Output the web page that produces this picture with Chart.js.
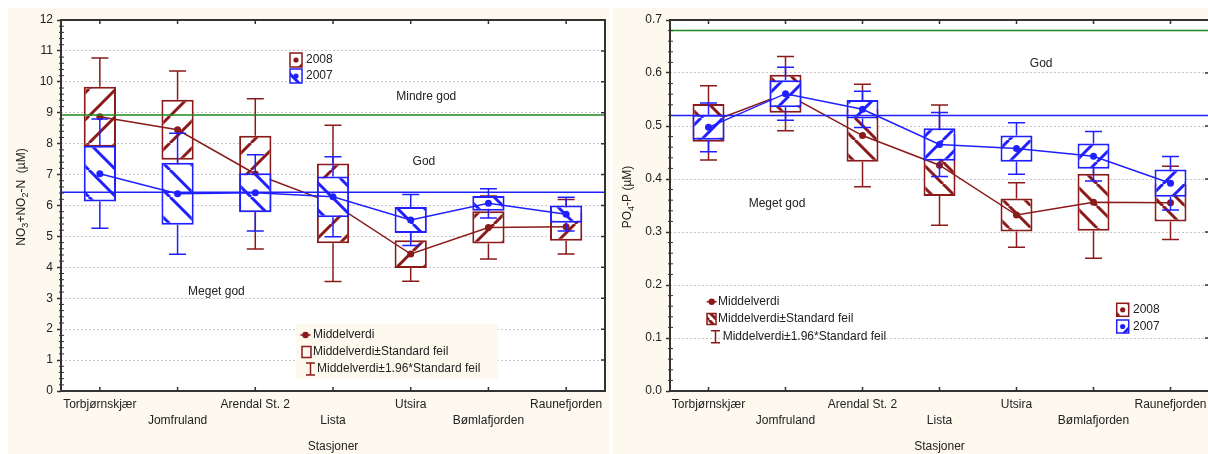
<!DOCTYPE html>
<html>
<head>
<meta charset="utf-8">
<script src="https://cdn.jsdelivr.net/npm/chart.js@4"></script>
<style>
html, body { margin: 0; padding: 0; background: #fff; overflow: hidden; width: 1208px; height: 454px; }
.panel { position: absolute; top: 8px; height: 446px; background: #fdf9ee; }
#p1 { left: 8px; width: 602px; }
#p2 { left: 613px; width: 600px; }
canvas { display: block; }
</style>
</head>
<body>
<div class="panel" id="p1"><canvas id="c1" width="602" height="446"></canvas></div>
<div class="panel" id="p2"><canvas id="c2" width="600" height="446"></canvas></div>
<script>
// Stations (x categories)
const stations = ['Torbjørnskjær', 'Jomfruland', 'Arendal St. 2', 'Lista', 'Utsira', 'Bømlafjorden', 'Raunefjorden'];
const years = ['2008', '2007'];
const statLabels = ['Middelverdi', 'Middelverdi±Standard feil', 'Middelverdi±1.96*Standard feil'];

// NO3+NO2-N (µM): mean and standard error
const no3Mean2008 = [8.87, 8.45, 7.02, 6.07, 4.43, 5.29, 5.31];
const no3Se2008 = [0.97, 0.97, 1.24, 1.29, 0.45, 0.52, 0.45];
const no3Mean2007 = [7.03, 6.38, 6.41, 6.28, 5.53, 6.07, 5.72];
const no3Se2007 = [0.90, 1.00, 0.63, 0.66, 0.42, 0.24, 0.28];
const no3Limits = [8.93, 6.43];
const no3Zones = ['Mindre god', 'God', 'Meget god'];

// PO4-P (µM): mean and standard error
const po4Mean2008 = [0.506, 0.561, 0.482, 0.426, 0.332, 0.356, 0.355];
const po4Se2008 = [0.0357, 0.0358, 0.0494, 0.0579, 0.031, 0.0538, 0.0353];
const po4Mean2007 = [0.4975, 0.561, 0.5315, 0.465, 0.4574, 0.443, 0.392];
const po4Se2007 = [0.0235, 0.0255, 0.0175, 0.0308, 0.0248, 0.0238, 0.0257];
const po4Limits = [0.68, 0.52];
const po4Zones = ['God', 'Meget god'];

const RED = '#8b1a1a';
const BLUE = '#1f1fff';
const GREEN = '#1e8a1e';
const FONT = '"Liberation Sans", Arial, sans-serif';

Chart.defaults.font.family = FONT;
Chart.defaults.font.size = 12;
Chart.defaults.color = '#222';

function makeHatch(ctx, color, dir, s) {
    const c = document.createElement('canvas');
    c.width = c.height = s;
    const g = c.getContext('2d');
    g.fillStyle = '#fff';
    g.fillRect(0, 0, s, s);
    g.strokeStyle = color;
    g.lineWidth = 3;
    g.beginPath();
    for (let k = -1; k <= 1; k++) {
        if (dir === '/') { g.moveTo(k * s, s); g.lineTo(k * s + s, 0); }
        else { g.moveTo(k * s, 0); g.lineTo(k * s + s, s); }
    }
    g.stroke();
    return ctx.createPattern(c, 'repeat');
}

function drawWhiskers(chart, means, ses, color) {
    const { ctx, scales: { x, y } } = chart;
    ctx.save();
    ctx.strokeStyle = color;
    ctx.lineWidth = 1.5;
    means.forEach((m, i) => {
        const px = x.getPixelForValue(i);
        [[m + ses[i], m + 1.96 * ses[i]], [m - ses[i], m - 1.96 * ses[i]]].forEach(([a, b]) => {
            const ya = y.getPixelForValue(a), yb = y.getPixelForValue(b);
            ctx.beginPath();
            ctx.moveTo(px, ya); ctx.lineTo(px, yb);
            ctx.moveTo(px - 8.5, yb); ctx.lineTo(px + 8.5, yb);
            ctx.stroke();
        });
    });
    ctx.restore();
}

function drawRichVertical(ctx, parts, x, y) {
    ctx.save();
    ctx.translate(x, y);
    ctx.rotate(-Math.PI / 2);
    ctx.fillStyle = '#222';
    ctx.textBaseline = 'middle';
    ctx.textAlign = 'left';
    let total = 0;
    parts.forEach(([t, sub]) => { ctx.font = (sub ? '9px ' : '12px ') + FONT; total += ctx.measureText(t).width; });
    let cx = -total / 2;
    parts.forEach(([t, sub]) => {
        ctx.font = (sub ? '9px ' : '12px ') + FONT;
        ctx.fillText(t, cx, sub ? 4 : 0);
        cx += ctx.measureText(t).width;
    });
    ctx.restore();
}

function decorations(cfg) {
    return {
        id: 'deco',
        beforeDraw(chart) {
            const { ctx, chartArea: a } = chart;
            ctx.save();
            ctx.fillStyle = '#fff';
            ctx.fillRect(a.left, a.top, a.width, a.height);
            ctx.restore();
        },
        afterDatasetDraw(chart, args) {
            if (args.index === 0) drawWhiskers(chart, cfg.m08, cfg.s08, RED);
            if (args.index === 2) drawWhiskers(chart, cfg.m07, cfg.s07, BLUE);
        },
        afterDatasetsDraw(chart) {
            const { ctx, chartArea: a, scales: { x, y } } = chart;
            ctx.save();
            ctx.lineWidth = 1.5;
            [[cfg.limits[0], GREEN], [cfg.limits[1], BLUE]].forEach(([v, col]) => {
                const py = y.getPixelForValue(v);
                ctx.strokeStyle = col;
                ctx.beginPath(); ctx.moveTo(a.left, py); ctx.lineTo(a.right, py); ctx.stroke();
            });
            const x0 = x.getPixelForValue(0), dx = x.getPixelForValue(1) - x0;
            ctx.fillStyle = '#222';
            ctx.font = '12px ' + FONT;
            ctx.textAlign = 'center';
            ctx.textBaseline = 'middle';
            cfg.zones.forEach((z, i) => {
                const [fx, vy] = cfg.zonePos[i];
                ctx.fillText(z, x0 + fx * dx, y.getPixelForValue(vy));
            });
            ctx.restore();
        },
        afterDraw(chart) {
            const { ctx, chartArea: a, scales: { x, y } } = chart;
            ctx.save();
            // frame
            ctx.strokeStyle = '#333';
            ctx.lineWidth = 2;
            ctx.strokeRect(a.left, a.top, a.width, a.height);
            // inward ticks on top, bottom and right
            ctx.lineWidth = 1.5;
            ctx.beginPath();
            stations.forEach((s, i) => {
                const px = x.getPixelForValue(i);
                ctx.moveTo(px, a.top); ctx.lineTo(px, a.top + 4);
                ctx.moveTo(px, a.bottom); ctx.lineTo(px, a.bottom - 4);
            });
            const step = cfg.yStep;
            for (let k = 0; k * step <= cfg.yMax + 1e-9; k++) {
                const py = y.getPixelForValue(k * step);
                ctx.moveTo(a.right, py); ctx.lineTo(a.right - 4, py);
            }
            ctx.stroke();
            // minor ticks on left axis
            ctx.lineWidth = 1;
            ctx.beginPath();
            for (let k = 0; k * step / 5 <= cfg.yMax + 1e-9; k++) {
                if (k % 5 === 0) continue;
                const py = y.getPixelForValue(k * step / 5);
                ctx.moveTo(a.left - 2, py); ctx.lineTo(a.left + 3, py);
            }
            ctx.stroke();

            // year legend
            const yl = cfg.yearLegend;
            [[RED, cfg.hatch08], [BLUE, cfg.hatch07]].forEach(([col, pat], i) => {
                const top = yl.tops[i];
                ctx.fillStyle = pat;
                ctx.fillRect(yl.x, top, 12, yl.h);
                ctx.strokeStyle = col;
                ctx.lineWidth = 1.5;
                ctx.strokeRect(yl.x, top, 12, yl.h);
                ctx.fillStyle = col;
                ctx.beginPath(); ctx.arc(yl.x + 6, top + yl.h / 2, 2.6, 0, Math.PI * 2); ctx.fill();
                ctx.fillStyle = '#222';
                ctx.font = '12px ' + FONT;
                ctx.textAlign = 'left';
                ctx.textBaseline = 'middle';
                ctx.fillText(years[i], yl.textX, top + yl.h / 2);
            });

            // statistics legend
            const sl = cfg.statsLegend;
            if (sl.box) {
                ctx.fillStyle = '#fdf9ee';
                ctx.fillRect(sl.box[0], sl.box[1], sl.box[2], sl.box[3]);
            }
            ctx.strokeStyle = RED;
            ctx.fillStyle = RED;
            ctx.lineWidth = 1.5;
            // mean marker
            ctx.beginPath(); ctx.moveTo(sl.dotX - 5, sl.rows[0]); ctx.lineTo(sl.dotX + 5, sl.rows[0]); ctx.stroke();
            ctx.beginPath(); ctx.arc(sl.dotX, sl.rows[0], 3.2, 0, Math.PI * 2); ctx.fill();
            // SE box
            if (sl.hatched) {
                ctx.fillStyle = cfg.hatch08Small;
                ctx.fillRect(sl.squareX, sl.rows[1] - 5, 9, 10);
            }
            ctx.strokeRect(sl.squareX, sl.rows[1] - 5.5, 9, 11);
            // whisker
            ctx.beginPath();
            ctx.moveTo(sl.whiskerX, sl.rows[2] - 6); ctx.lineTo(sl.whiskerX, sl.rows[2] + 6);
            ctx.moveTo(sl.whiskerX - 4.5, sl.rows[2] - 6); ctx.lineTo(sl.whiskerX + 4.5, sl.rows[2] - 6);
            ctx.moveTo(sl.whiskerX - 4.5, sl.rows[2] + 6); ctx.lineTo(sl.whiskerX + 4.5, sl.rows[2] + 6);
            ctx.stroke();
            ctx.fillStyle = '#222';
            ctx.font = '12px ' + FONT;
            ctx.textAlign = 'left';
            ctx.textBaseline = 'middle';
            statLabels.forEach((t, i) => ctx.fillText(t, sl.textX[i], sl.rows[i]));
            ctx.restore();

            drawRichVertical(ctx, cfg.title, cfg.titleX, cfg.titleY);
        }
    };
}

function makePanel(id, cfg) {
    const ctx = document.getElementById(id).getContext('2d');
    cfg.hatch08 = makeHatch(ctx, RED, cfg.dir08, cfg.hatch);
    cfg.hatch07 = makeHatch(ctx, BLUE, cfg.dir07, cfg.hatch);
    cfg.hatch08Small = makeHatch(ctx, RED, cfg.dir08, 8);
    const box = (m, s) => m.map((v, i) => [v - s[i], v + s[i]]);
    const barOpts = { borderWidth: 2, borderSkipped: false, barPercentage: 0.415, categoryPercentage: 1, grouped: false };
    const lineOpts = { borderWidth: 1.5, pointRadius: 3.5, pointBorderWidth: 0, tension: 0, fill: false };
    return new Chart(ctx, {
        type: 'bar',
        data: {
            labels: stations,
            datasets: [
                { type: 'bar', data: box(cfg.m08, cfg.s08), backgroundColor: cfg.hatch08, borderColor: RED, order: 4, ...barOpts },
                { type: 'line', data: cfg.m08, borderColor: RED, pointBackgroundColor: RED, order: 3, ...lineOpts },
                { type: 'bar', data: box(cfg.m07, cfg.s07), backgroundColor: cfg.hatch07, borderColor: BLUE, order: 2, ...barOpts },
                { type: 'line', data: cfg.m07, borderColor: BLUE, pointBackgroundColor: BLUE, order: 1, ...lineOpts }
            ]
        },
        options: {
            responsive: false,
            animation: false,
            layout: { padding: { left: 0, right: cfg.padRight, top: 12, bottom: 0 } },
            plugins: { legend: { display: false }, tooltip: { enabled: false } },
            scales: {
                x: {
                    grid: { display: false, drawTicks: false },
                    border: { display: false },
                    ticks: {
                        autoSkip: false, maxRotation: 0, minRotation: 0, padding: 6,
                        font: { size: 12, lineHeight: 1.34 },
                        callback: (v, i) => i % 2 === 0 ? [stations[i], ''] : ['', stations[i]]
                    },
                    title: { display: true, text: 'Stasjoner', padding: 0, font: { size: 12 } },
                    afterFit: s => { s.height = 63; }
                },
                y: {
                    min: 0, max: cfg.yMax,
                    grid: { color: '#c6c6c6', lineWidth: 1, tickLength: 4, tickColor: '#333', tickWidth: 1.5, tickBorderDash: [] },
                    border: { display: false, dash: [2, 2] },
                    ticks: { stepSize: cfg.yStep, padding: 4, callback: cfg.fmt },
                    afterFit: s => { s.width = cfg.yWidth; }
                }
            }
        },
        plugins: [decorations(cfg)]
    });
}

makePanel('c1', {
    m08: no3Mean2008, s08: no3Se2008, m07: no3Mean2007, s07: no3Se2007,
    dir08: '/', dir07: '\\', hatch: 27,
    yMax: 12, yStep: 1, fmt: v => String(Math.round(v)), yWidth: 53, padRight: 5,
    limits: no3Limits, zones: no3Zones, zonePos: [[4.2, 9.51], [4.17, 7.41], [1.5, 3.21]],
    title: [['NO', 0], ['3', 1], ['+NO', 0], ['2', 1], ['-N  (µM)', 0]], titleX: 14, titleY: 189,
    yearLegend: { x: 282, tops: [45, 61], h: 14, textX: 298 },
    statsLegend: { box: [288, 316, 202, 55], rows: [327, 344, 361], dotX: 297.5, squareX: 294, whiskerX: 302.5, textX: [305, 305, 309], hatched: false }
});

makePanel('c2', {
    m08: po4Mean2008, s08: po4Se2008, m07: po4Mean2007, s07: po4Se2007,
    dir08: '\\', dir07: '/', hatch: 22,
    yMax: 0.7, yStep: 0.1, fmt: v => Number(v).toFixed(1), yWidth: 57, padRight: 3,
    limits: po4Limits, zones: po4Zones, zonePos: [[4.32, 0.618], [0.89, 0.354]],
    title: [['PO', 0], ['4', 1], ['-P (µM)', 0]], titleX: 14.5, titleY: 189,
    yearLegend: { x: 503.7, tops: [295.3, 312], h: 13, textX: 520 },
    statsLegend: { box: null, rows: [293.7, 311, 328.7], dotX: 98.7, squareX: 94, whiskerX: 102.5, textX: [105, 105, 109.7], hatched: true }
});
</script>
</body>
</html>
